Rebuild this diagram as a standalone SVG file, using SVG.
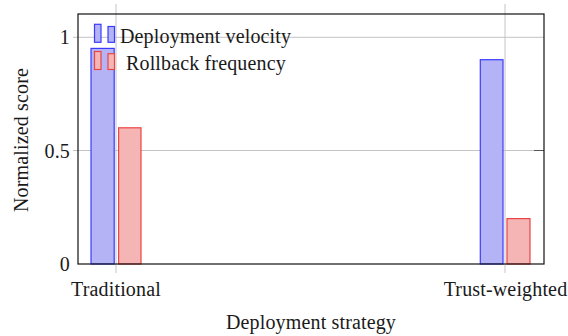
<svg xmlns="http://www.w3.org/2000/svg" width="568" height="336" viewBox="0 0 568 336">
<style>
text{font-family:"Liberation Serif","Times New Roman",serif;font-size:20px;fill:#1a1a1a;letter-spacing:0.15px}
.grid{stroke:#c4c4c4;stroke-width:1;fill:none}
.tick{stroke:#555;stroke-width:1;fill:none}
.bb{fill:#b3b3f5;stroke:#3b3bff;stroke-width:1.2}
.rb{fill:#f5b5b5;stroke:#ea4545;stroke-width:1.2}
.axis{fill:none;stroke:#111;stroke-width:1.2}
</style>
<rect width="568" height="336" fill="#fff"/>
<g id="grid">
<line class="grid" x1="73" y1="37.3" x2="544" y2="37.3"/>
<line class="grid" x1="73" y1="150.5" x2="544" y2="150.5"/>
<line class="grid" x1="116" y1="4" x2="116" y2="273"/>
<line class="grid" x1="505" y1="4" x2="505" y2="273"/>
<line class="tick" x1="534" y1="150.5" x2="544" y2="150.5"/>
</g>
<g id="bars">
<rect id="trad-velocity" class="bb" x="91" y="48.4" width="23.2" height="215.6"/>
<rect id="trad-rollback" class="rb" x="118.6" y="127.8" width="22.4" height="136.2"/>
<rect id="trust-velocity" class="bb" x="480.3" y="59.7" width="22.7" height="204.3"/>
<rect id="trust-rollback" class="rb" x="507" y="218.6" width="23" height="45.4"/>
</g>
<rect id="axis-box" class="axis" x="78" y="14" width="466" height="250"/>
<g id="ticklabels">
<text x="70" y="44" text-anchor="end">1</text>
<text x="70" y="157.5" text-anchor="end">0.5</text>
<text x="70" y="271" text-anchor="end">0</text>
<text x="116" y="296" text-anchor="middle">Traditional</text>
<text x="505.5" y="296" text-anchor="middle">Trust-weighted</text>
</g>
<text id="xlabel" x="311" y="329.3" text-anchor="middle">Deployment strategy</text>
<text id="ylabel" transform="translate(28,140) rotate(-90)" text-anchor="middle">Normalized score</text>
<g id="legend">
<rect class="bb" x="94.5" y="24.3" width="6.5" height="18"/>
<rect class="bb" x="108" y="26.5" width="6.5" height="15.8"/>
<text x="120" y="42.5">Deployment velocity</text>
<rect class="rb" x="94.5" y="51.5" width="6.5" height="18"/>
<rect class="rb" x="108" y="53.7" width="6.5" height="15.8"/>
<text x="126" y="70">Rollback frequency</text>
</g>
</svg>
